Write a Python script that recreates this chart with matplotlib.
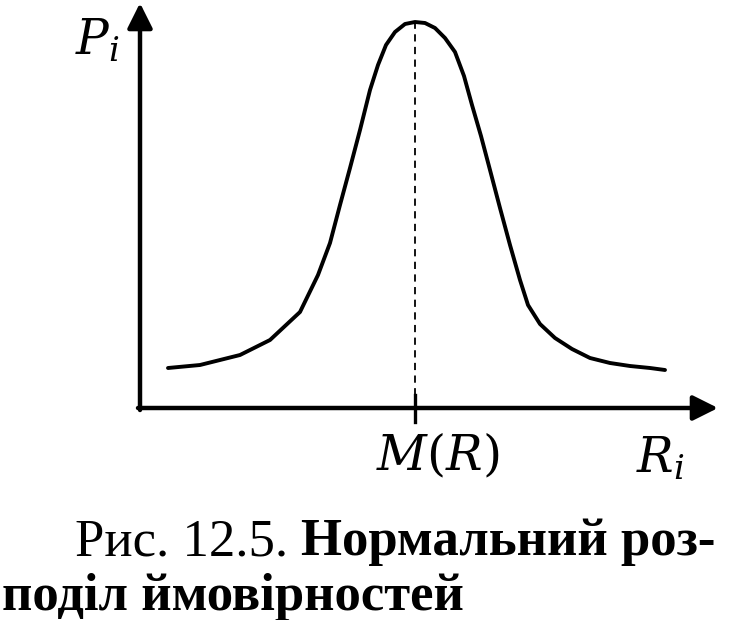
import matplotlib.pyplot as plt
import numpy as np

# curve (axis origin = 0,0)
R = [28, 60, 100, 130, 160, 178, 190, 200, 210, 220, 230, 238, 246, 255, 265,
     275, 285, 295, 305, 315, 324, 332, 341, 350, 360, 370, 380, 388, 400, 415,
     432, 450, 470, 490, 510, 525]
P = [40, 43, 53, 68, 96, 133, 165, 203, 240, 278, 318, 343, 363, 376, 384,
     386, 385, 380, 370, 356, 332, 303, 272, 238, 200, 163, 128, 103, 84, 70,
     59, 50, 45, 42, 40, 38]
m_r = 275          # position of M(R)
x_end, y_end = 578, 405

fig = plt.figure(figsize=(7.35, 6.2), dpi=100)
ax = fig.add_axes([0, 0, 1, 1])
ax.set_xlim(-140, 595)
ax.set_ylim(-212, 408)
ax.axis('off')

arrow = dict(arrowstyle='-|>', lw=3.2, color='k', mutation_scale=38,
             shrinkA=0, shrinkB=0)
ax.annotate('', xy=(0, y_end), xytext=(0, -2), arrowprops=arrow)
ax.annotate('', xy=(x_end, 0), xytext=(-2, 0), arrowprops=arrow)

ax.plot(R, P, color='k', lw=2.8, solid_capstyle='round', solid_joinstyle='round')
ax.plot([m_r, m_r], [0, max(P)], color='k', lw=1.3, ls=(0, (4, 3)))
ax.plot([m_r, m_r], [-14, 13], color='k', lw=2.4)

plt.rcParams['mathtext.fontset'] = 'dejavuserif'
ax.text(-43, 368, r'$P_i$', fontsize=35, ha='center', va='center')
ax.text(298, -48, r'$M(R)$', fontsize=35, ha='center', va='center')
ax.text(520, -50, r'$R_i$', fontsize=35, ha='center', va='center')

cap = dict(family='Liberation Serif', fontsize=38, color='k')
t1 = ax.text(-65, -134, 'Рис. 12.5. ', ha='left', va='center', **cap)
fig.canvas.draw()
bb = t1.get_window_extent()
x2 = ax.transData.inverted().transform((bb.x1, bb.y0))[0]
ax.text(x2, -134, 'Нормальний роз-', ha='left', va='center',
        fontweight='bold', **cap)
ax.text(-138, -189, 'поділ ймовірностей', ha='left', va='center',
        fontweight='bold', **cap)

fig.savefig('out.png', dpi=100)
